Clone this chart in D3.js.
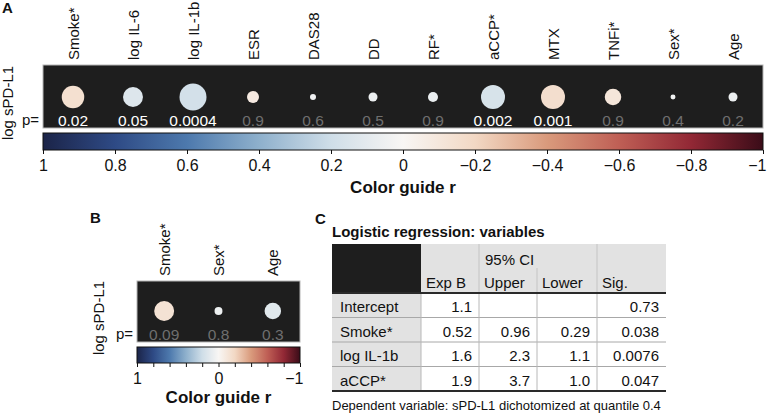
<!DOCTYPE html>
<html>
<head>
<meta charset="utf-8">
<script src="https://cdn.jsdelivr.net/npm/d3@7"></script>
<style>
  body { margin: 0; background: #fff; }
  svg text { font-family: "Liberation Sans", Arial, sans-serif; }
</style>
</head>
<body>
<div id="chart"></div>
<script>
// data: panel A (univariate correlations with log sPD-L1)
let varsA = ["Smoke*", "log IL-6", "log IL-1b", "ESR", "DAS28", "DD", "RF*", "aCCP*", "MTX", "TNFi*", "Sex*", "Age"];
let rA = [-0.15, 0.133, 0.18, -0.08, 0.04, 0.06, 0.067, 0.16, -0.16, -0.11, 0.033, 0.06];
let pA = ["0.02", "0.05", "0.0004", "0.9", "0.6", "0.5", "0.9", "0.002", "0.001", "0.9", "0.4", "0.2"];

// data: panel B (partial correlations)
let varsB = ["Smoke*", "Sex*", "Age"];
let rB = [-0.133, 0.053, 0.11];
let pB = ["0.09", "0.8", "0.3"];

// colour guide ticks
let ticksA = [1, 0.8, 0.6, 0.4, 0.2, 0, -0.2, -0.4, -0.6, -0.8, -1];
let ticksB = [1, 0, -1];

// data: panel C (logistic regression table)
let tableHead = ["Exp B", "Upper", "Lower", "Sig."];
let tableRows = ["Intercept", "Smoke*", "log IL-1b", "aCCP*"];
let expB = ["1.1", "0.52", "1.6", "1.9"];
let ciUpper = ["", "0.96", "2.3", "3.7"];
let ciLower = ["", "0.29", "1.1", "1.0"];
let sigC = ["0.73", "0.038", "0.0076", "0.047"];

// step 1 svg
let W = 767, H = 414;
let svg = d3.select("#chart").append("svg")
    .attr("width", W)
    .attr("height", H);

// colour map, roughly cmocean "balance" (r = 1 navy, 0 white, -1 maroon)
let colorScale = d3.scaleLinear()
    .domain([1, 0.8, 0.6, 0.4, 0.2, 0, -0.2, -0.4, -0.6, -0.8, -1])
    .range(["#1b2448", "#2e4a85", "#4d79ad", "#8eb0cc", "#cfdee8", "#f8f6f4",
            "#f2d8c4", "#d99a7c", "#bf5f55", "#922835", "#3a0c18"])
    .interpolate(d3.interpolateRgb);

let radius = d3.scaleLinear().domain([0, 1]).range([0, 75]);

// gradient used by both colour bars
let defs = svg.append("defs");
let grad = defs.append("linearGradient").attr("id", "cguide")
    .attr("x1", "0%").attr("x2", "100%");
d3.range(0, 1.0001, 0.05).forEach(t => {
    grad.append("stop")
        .attr("offset", (t * 100) + "%")
        .attr("stop-color", colorScale(1 - 2 * t));
});

function drawPanel(opt) {
    let g = svg.append("g");
    let x = d3.scaleBand().domain(opt.vars).range([opt.x0, opt.x1]);

    // dark box
    g.append("rect")
        .attr("x", opt.x0).attr("y", opt.boxTop)
        .attr("width", opt.x1 - opt.x0).attr("height", opt.boxBottom - opt.boxTop)
        .attr("fill", "#1e1e1e")
        .attr("stroke", "#b5b5b5").attr("stroke-width", 1);

    // column labels, rotated
    g.selectAll(".vlab").data(opt.vars).join("text")
        .attr("class", "vlab")
        .attr("transform", d => "translate(" + (x(d) + x.bandwidth() / 2 + 5.5) + "," + (opt.boxTop - 5) + ") rotate(-90)")
        .attr("font-size", 15)
        .attr("fill", "#111")
        .text(d => d);

    // circles
    g.selectAll("circle").data(opt.r).join("circle")
        .attr("cx", (d, i) => x(opt.vars[i]) + x.bandwidth() / 2)
        .attr("cy", opt.cy)
        .attr("r", d => radius(Math.abs(d)))
        .attr("fill", d => colorScale(d));

    // p values
    g.selectAll(".pval").data(opt.p).join("text")
        .attr("class", "pval")
        .attr("x", (d, i) => x(opt.vars[i]) + x.bandwidth() / 2)
        .attr("y", opt.pY)
        .attr("text-anchor", "middle")
        .attr("font-size", 15.5)
        .attr("fill", d => (+d <= 0.05 ? "#ffffff" : "#6f6f6f"))
        .text(d => d);

    g.append("text")
        .attr("x", opt.x0 - 4).attr("y", opt.pY - 1)
        .attr("text-anchor", "end")
        .attr("font-size", 15)
        .attr("fill", "#111")
        .text("p=");

    g.append("text")
        .attr("transform", "translate(" + opt.yLabX + "," + opt.yLabY + ") rotate(-90)")
        .attr("text-anchor", "middle")
        .attr("font-size", 15)
        .attr("fill", "#111")
        .text("log sPD-L1");

    // colour bar
    g.append("rect")
        .attr("x", opt.x0).attr("y", opt.barTop)
        .attr("width", opt.x1 - opt.x0).attr("height", opt.barH)
        .attr("fill", "url(#cguide)")
        .attr("stroke", "#111").attr("stroke-width", 1);

    let cx = d3.scaleLinear().domain([1, -1]).range([opt.x0, opt.x1]);
    let axis = d3.axisBottom(cx)
        .tickValues(ticksA)
        .tickSize(4)
        .tickFormat(d => (opt.labelTicks.indexOf(d) >= 0 ? d3.format("")(d).replace("-", "\u2212") : ""));
    let ax = g.append("g")
        .attr("transform", "translate(0," + (opt.barTop + opt.barH) + ")")
        .call(axis);
    ax.select(".domain").remove();
    ax.selectAll(".tick line").attr("stroke", "#111");
    ax.selectAll(".tick text")
        .attr("font-size", 16)
        .attr("font-family", "Liberation Sans, Arial, sans-serif")
        .attr("fill", "#111")
        .attr("y", 6)
        .attr("dy", "0.95em");
    // keep the last label (−1) inside the page
    ax.selectAll(".tick text").filter(d => d === -1)
        .attr("text-anchor", "end")
        .attr("x", 3);

    g.append("text")
        .attr("x", (opt.x0 + opt.x1) / 2).attr("y", opt.titleY)
        .attr("text-anchor", "middle")
        .attr("font-size", 17)
        .attr("font-weight", "bold")
        .attr("fill", "#111")
        .text("Color guide r");
}

drawPanel({
    vars: varsA, r: rA, p: pA, labelTicks: ticksA,
    x0: 43, x1: 763, boxTop: 65, boxBottom: 128, cy: 97, pY: 126,
    yLabX: 13, yLabY: 103,
    barTop: 133, barH: 17, titleY: 193
});

drawPanel({
    vars: varsB, r: rB, p: pB, labelTicks: ticksB,
    x0: 137, x1: 300, boxTop: 281, boxBottom: 342, cy: 311, pY: 340,
    yLabX: 104, yLabY: 318,
    barTop: 347, barH: 16, titleY: 403
});

// panel letters
[["A", 2, 13], ["B", 90, 223], ["C", 315, 224]].forEach(l => {
    svg.append("text")
        .attr("x", l[1]).attr("y", l[2])
        .attr("font-size", 15).attr("font-weight", "bold")
        .attr("fill", "#111")
        .text(l[0]);
});

// panel C table
let tg = svg.append("g");
let colX = [332, 421, 479, 537, 597, 666];
let headTop = 244, headBot = 293, rowH = 24.5;
let rowY = d3.scaleBand().domain(tableRows).range([headBot, headBot + rowH * tableRows.length]);
let cols = [expB, ciUpper, ciLower, sigC];

tg.append("text")
    .attr("x", 332).attr("y", 237)
    .attr("font-size", 15).attr("font-weight", "bold")
    .attr("fill", "#111")
    .text("Logistic regression: variables");

tg.append("rect").attr("x", colX[1]).attr("y", headTop)
    .attr("width", colX[5] - colX[1]).attr("height", headBot - headTop)
    .attr("fill", "#e2e2e2");
tg.append("rect").attr("x", colX[0]).attr("y", headTop)
    .attr("width", colX[1] - colX[0]).attr("height", headBot - headTop)
    .attr("fill", "#1e1e1e");
tg.append("rect").attr("x", colX[0]).attr("y", headBot)
    .attr("width", colX[1] - colX[0]).attr("height", rowH * tableRows.length)
    .attr("fill", "#e2e2e2");

// header separators
tg.append("line").attr("x1", colX[2]).attr("x2", colX[2]).attr("y1", headTop).attr("y2", headBot)
    .attr("stroke", "#c4c4c4");
tg.append("line").attr("x1", colX[3]).attr("x2", colX[3]).attr("y1", 268).attr("y2", headBot)
    .attr("stroke", "#c4c4c4");
tg.append("line").attr("x1", colX[4]).attr("x2", colX[4]).attr("y1", headTop).attr("y2", headBot)
    .attr("stroke", "#c4c4c4");

tg.append("text").attr("x", colX[2] + 6).attr("y", 265)
    .attr("font-size", 15).attr("fill", "#111").text("95% CI");
tg.selectAll(".hd").data(tableHead).join("text")
    .attr("class", "hd")
    .attr("x", (d, i) => colX[i + 1] + 5)
    .attr("y", 288)
    .attr("font-size", 15).attr("fill", "#111")
    .text(d => d);

// body grid
tableRows.forEach((rname, ri) => {
    if (ri > 0) {
        tg.append("line").attr("x1", colX[0]).attr("x2", colX[5])
            .attr("y1", rowY(rname)).attr("y2", rowY(rname))
            .attr("stroke", "#a8a8a8");
    }
});
colX.slice(1, 5).forEach(cxv => {
    tg.append("line").attr("x1", cxv).attr("x2", cxv)
        .attr("y1", headBot).attr("y2", headBot + rowH * tableRows.length)
        .attr("stroke", "#b8b8b8");
});
tg.append("line").attr("x1", colX[0]).attr("x2", colX[5]).attr("y1", headBot).attr("y2", headBot)
    .attr("stroke", "#2a2a2a").attr("stroke-width", 2);
tg.append("line").attr("x1", colX[0]).attr("x2", colX[5])
    .attr("y1", headBot + rowH * tableRows.length).attr("y2", headBot + rowH * tableRows.length)
    .attr("stroke", "#2a2a2a").attr("stroke-width", 2);

tg.selectAll(".rl").data(tableRows).join("text")
    .attr("class", "rl")
    .attr("x", colX[0] + 8)
    .attr("y", d => rowY(d) + 19)
    .attr("font-size", 15).attr("fill", "#111")
    .text(d => d);

cols.forEach((vals, ci) => {
    tg.selectAll(".c" + ci).data(vals).join("text")
        .attr("class", "c" + ci)
        .attr("x", colX[ci + 2] - 7)
        .attr("y", (d, i) => rowY(tableRows[i]) + 19)
        .attr("text-anchor", "end")
        .attr("font-size", 15).attr("fill", "#111")
        .text(d => d);
});

tg.append("text")
    .attr("x", 332).attr("y", 410)
    .attr("font-size", 13).attr("fill", "#111")
    .text("Dependent variable: sPD-L1 dichotomized at quantile 0.4");
</script>
</body>
</html>
